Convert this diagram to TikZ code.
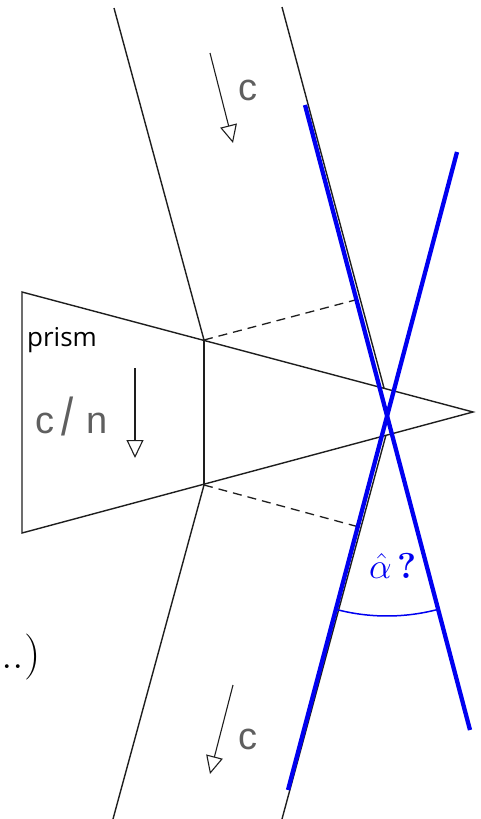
\RequirePackage{fix-cm}
\documentclass[tikz,border=0pt]{standalone}
\usepackage{fontspec}
\usetikzlibrary{arrows.meta,calc}
\newfontfamily\cadfont{Liberation Sans}
\newfontfamily\lblfont{Open Sans}
\definecolor{linegray}{RGB}{30,30,30}
\definecolor{cadgray}{RGB}{95,95,95}
\definecolor{rayblue}{RGB}{0,0,240}
\tikzset{
  edge/.style={draw=linegray,line width=1.4pt},
  wavefront/.style={draw=linegray,line width=1.3pt,dash pattern=on 9pt off 6pt},
  dirarrow/.style={draw=linegray,line width=1.1pt,-{Triangle[open,length=18pt,width=17pt,line width=1.1pt]}},
  cadtext/.style={text=cadgray,inner sep=0pt,font=\cadfont\fontsize{38}{40}\selectfont},
  bluerim/.style={draw=rayblue,line width=4.3pt},
  alphaarc/.style={draw=rayblue,line width=1.5pt},
}
\begin{document}
\begin{tikzpicture}[x=1pt,y=-1pt]
\useasboundingbox (0,0) rectangle (481,819);
% prism
\coordinate (P1) at (22,292);
\coordinate (P2) at (22,533);
\coordinate (T) at (473,412);
\coordinate (A) at (204,340);
\coordinate (B) at (204,485);
\coordinate (C) at (384,388);
\coordinate (D) at (386,435);
\coordinate (L1) at (114,8);
\coordinate (R1) at (282,7);
\coordinate (L2) at (113,819);
\coordinate (R2) at (282,819);
\coordinate (W1) at (359,299);
\coordinate (W2) at (359,527);
\draw[edge] (P1) -- (T) -- (P2) -- cycle;
\draw[edge] (A) -- (B);
% beams
\draw[edge] (L1) -- (A);
\draw[edge] (R1) -- (C);
\draw[edge] (B) -- (L2);
\draw[edge] (D) -- (R2);
\draw[wavefront] (A) -- (W1);
\draw[wavefront] (B) -- (W2);
% direction arrows
\coordinate (a1s) at (210,53); \coordinate (a1e) at (233,143);
\draw[dirarrow] (a1s) -- (a1e);
\coordinate (a2s) at (135,368); \coordinate (a2e) at (135,458);
\draw[dirarrow] (a2s) -- (a2e);
\coordinate (a3s) at (233,685); \coordinate (a3e) at (210,774);
\draw[dirarrow] (a3s) -- (a3e);
% labels
\node[cadtext,anchor=base west] (ctop) at (238,100) {c};
\node[cadtext,anchor=base west] (cbot) at (238,749) {c};
\node[cadtext,anchor=base west] (cn) at (35,433) {c\hspace{7pt}\raisebox{-2pt}{\scalebox{1.15}[1.4]{/}}\hspace{13pt}n};
\node[anchor=base west,inner sep=0pt,font=\lblfont\fontsize{26}{28}\selectfont] (prism) at (27,346) {prism};
\node[anchor=base west,inner sep=0pt,font=\fontsize{46}{50}\selectfont] (dots) at (1,668) {..)};
% blue rays
\coordinate (B1s) at (305,105); \coordinate (B1e) at (470,730);
\coordinate (B2s) at (457,152); \coordinate (B2e) at (288,790);
\draw[bluerim] (B1s) -- (B1e);
\draw[bluerim] (B2s) -- (B2e);
\coordinate (X) at (387,416);
\draw[alphaarc] ([shift={(-104.8:200pt)}]X) arc[start angle=-104.8,end angle=-75.2,radius=200pt];
\node[anchor=base west,inner sep=0pt,text=rayblue,font=\fontsize{36}{38}\selectfont] (alpha) at (369,578) {$\hat{\alpha}$\,\textbf{?}};
\end{tikzpicture}
\end{document}
